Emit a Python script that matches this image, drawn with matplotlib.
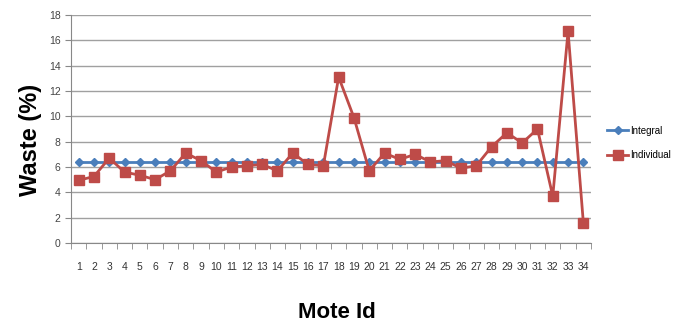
import matplotlib.pyplot as plt
import numpy as np

mote_ids = list(range(1, 35))
integral = [6.4] * 34
individual = [4.95, 5.25, 6.7, 5.6, 5.35, 5.0, 5.7, 7.1, 6.5, 5.6,
              6.0, 6.1, 6.2, 5.7, 7.1, 6.2, 6.1, 13.1, 9.9, 5.7,
              7.1, 6.6, 7.0, 6.4, 6.5, 5.9, 6.1, 7.6, 8.7, 7.9,
              9.0, 3.7, 16.7, 1.6]

plt.rcParams['font.family'] = ['Liberation Sans', 'DejaVu Sans']

fig = plt.figure(figsize=(6.74, 3.26), dpi=100)
ax = fig.add_axes([71 / 674, 1 - 243 / 326, 520 / 674, 228 / 326])

ax.plot(mote_ids, integral, color='#4a7ebb', lw=2, marker='D', ms=4,
        label='Integral', zorder=3)
ax.plot(mote_ids, individual, color='#be4b48', lw=2, marker='s', ms=6.5,
        label='Individual', zorder=4)

ax.set_xlim(0.5, 34.5)
ax.set_ylim(0, 18)
ax.set_yticks(np.arange(0, 19, 2))
ax.set_xticks(mote_ids)
ax.set_xticks(np.arange(0.5, 35, 1), minor=True)
ax.tick_params(axis='x', which='major', length=0, pad=14, labelsize=7.5, colors='#333333')
ax.tick_params(axis='x', which='minor', length=4, color='#888888')
ax.tick_params(axis='y', length=4, color='#888888', labelsize=7.5, colors='#444444')
ax.grid(axis='y', color='#a0a0a0', lw=1)
ax.set_axisbelow(True)
for s in ['top', 'right']:
    ax.spines[s].set_visible(False)
for s in ['left', 'bottom']:
    ax.spines[s].set_color('#888888')

fig.text(30 / 674, 1 - 140 / 326, 'Waste (%)', rotation=90, ha='center', va='center',
         fontsize=17, fontweight='bold')
fig.text(337 / 674, 1 - 313 / 326, 'Mote Id', ha='center', va='center',
         fontsize=16, fontweight='bold')

fig.legend(loc='center left', bbox_to_anchor=(607 / 674, 1 - 143 / 326),
           frameon=False, fontsize=7, handlelength=2.2, labelspacing=1.5,
           borderpad=0, handletextpad=0.2, borderaxespad=0)

fig.savefig('out.png', dpi=100)
